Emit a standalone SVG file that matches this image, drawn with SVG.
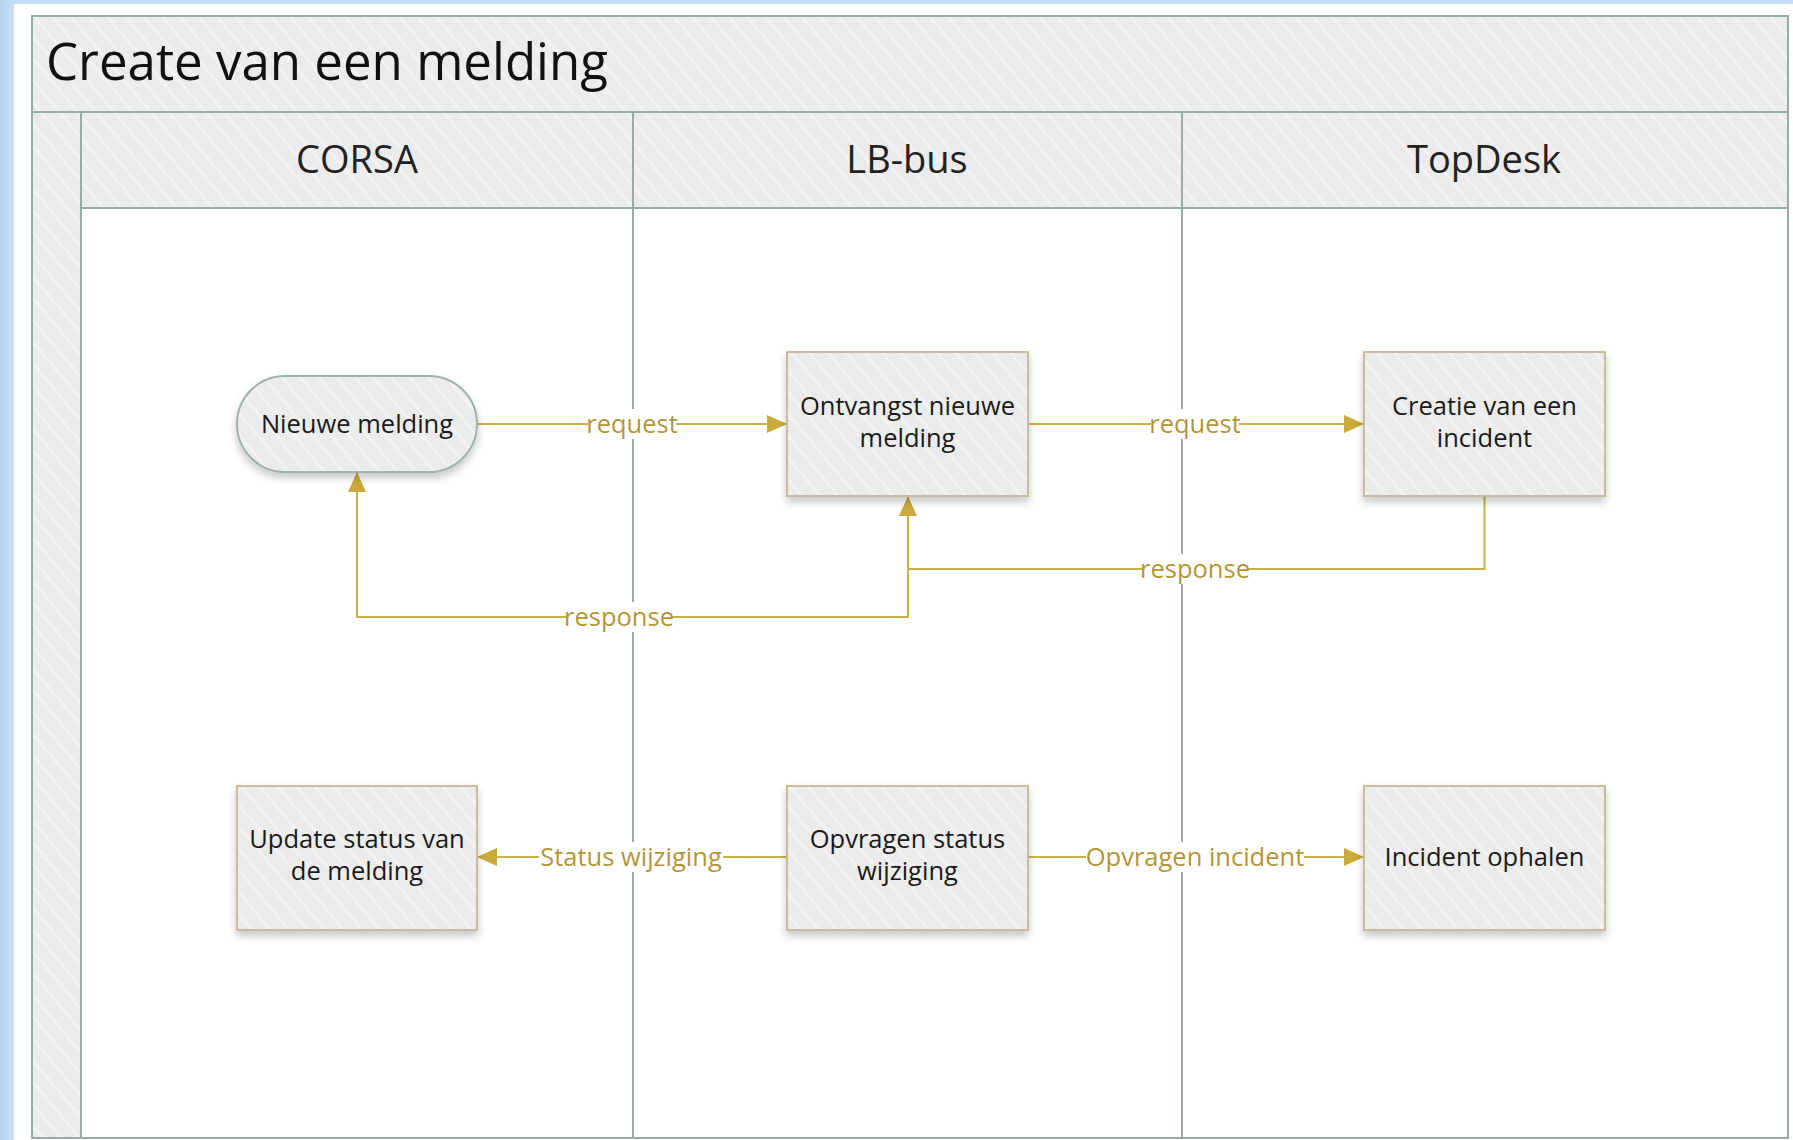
<svg xmlns="http://www.w3.org/2000/svg" width="1793" height="1140" viewBox="0 0 1793 1140">
<defs>
<linearGradient id="blueL" x1="0" y1="0" x2="1" y2="0"><stop offset="0" stop-color="#B5D3F0"/><stop offset="1" stop-color="#C9E0F5"/></linearGradient>
<pattern id="hatch" width="14" height="14" patternUnits="userSpaceOnUse" patternTransform="rotate(-40)">
<rect width="14" height="14" fill="#EBEBEB"/>
<rect width="3" height="14" fill="#F2F2F2"/>
</pattern>
<filter id="shadow" x="-10%" y="-10%" width="130%" height="140%">
<feDropShadow dx="0" dy="5" stdDeviation="4" flood-color="#000" flood-opacity="0.22"/>
</filter>
<marker id="arr" markerUnits="userSpaceOnUse" markerWidth="20" markerHeight="20" refX="20" refY="9" orient="auto">
<path d="M0,0 L20,9 L0,18 z" fill="#CBA93A"/>
</marker>
<style>
.lane{fill:url(#hatch);stroke:#95ADA6;stroke-width:2}
.lline{stroke:#95ADA6;stroke-width:2;fill:none}
.hdr{font-family:"Open Sans","Noto Sans",sans-serif;font-size:38px;fill:#222;text-anchor:middle}
.title{font-family:"Open Sans","Noto Sans",sans-serif;font-size:51px;fill:#111}
.box{fill:url(#hatch);stroke:#C9BD98;stroke-width:2;filter:url(#shadow)}
.pill{fill:url(#hatch);stroke:#9DB4AC;stroke-width:2;filter:url(#shadow)}
.ntxt{font-family:"Open Sans","Noto Sans",sans-serif;font-size:25.5px;fill:#1a1a1a;text-anchor:middle}
.conn{stroke:#CDAF48;stroke-width:2;fill:none}
.lbl{font-family:"Open Sans","Noto Sans",sans-serif;font-size:25.5px;fill:#B3953A;text-anchor:middle}
.lblbg{fill:#fff}
</style>
</defs>
<rect width="1793" height="1140" fill="#fff"/>
<rect x="0" y="0" width="1793" height="4" fill="#C3DCF3"/>
<rect x="0" y="0" width="14" height="1140" fill="url(#blueL)"/>

<g id="pool">
<rect x="32" y="16" width="1756" height="1122" fill="#fff" stroke="#95ADA6" stroke-width="2"/>
<rect x="32" y="16" width="1756" height="96" class="lane"/>
<rect x="32" y="112" width="49" height="1026" class="lane"/>
<rect x="81" y="112" width="1707" height="96" class="lane"/>
<line x1="633" y1="112" x2="633" y2="1138" class="lline"/>
<line x1="1182" y1="112" x2="1182" y2="1138" class="lline"/>
<text x="46" y="80" class="title">Create van een melding</text>
<text x="357" y="173" class="hdr">CORSA</text>
<text x="907" y="173" class="hdr">LB-bus</text>
<text x="1484" y="173" class="hdr">TopDesk</text>
</g>

<g id="connectors">
<path class="conn" d="M477,424 H787" marker-end="url(#arr)"/>
<path class="conn" d="M1028,424 H1364" marker-end="url(#arr)"/>
<path class="conn" d="M1484.5,496 V569 H908 V496" marker-end="url(#arr)"/>
<path class="conn" d="M908,569 V617 H357 V472" marker-end="url(#arr)"/>
<path class="conn" d="M787,857 H477" marker-end="url(#arr)"/>
<path class="conn" d="M1028,857 H1364" marker-end="url(#arr)"/>
<rect class="lblbg" x="588" y="409" width="88" height="30"/>
<text class="lbl" x="632" y="433">request</text>
<rect class="lblbg" x="1151" y="409" width="88" height="30"/>
<text class="lbl" x="1195" y="433">request</text>
<rect class="lblbg" x="1142" y="554" width="106" height="30"/>
<text class="lbl" x="1195" y="578">response</text>
<rect class="lblbg" x="566" y="602" width="106" height="30"/>
<text class="lbl" x="619" y="626">response</text>
<rect class="lblbg" x="539" y="842" width="184" height="30"/>
<text class="lbl" x="631" y="866">Status wijziging</text>
<rect class="lblbg" x="1086" y="842" width="218" height="30"/>
<text class="lbl" x="1195" y="866">Opvragen incident</text>
</g>

<g id="n1">
<rect class="pill" x="237" y="376" width="240" height="96" rx="48"/>
<text class="ntxt" x="357" y="433">Nieuwe melding</text>
</g>
<g id="n2">
<rect class="box" x="787" y="352" width="241" height="144"/>
<text class="ntxt" x="907.5" y="415">Ontvangst nieuwe</text>
<text class="ntxt" x="907.5" y="447">melding</text>
</g>
<g id="n3">
<rect class="box" x="1364" y="352" width="241" height="144"/>
<text class="ntxt" x="1484.5" y="415">Creatie van een</text>
<text class="ntxt" x="1484.5" y="447">incident</text>
</g>
<g id="n4">
<rect class="box" x="237" y="786" width="240" height="144"/>
<text class="ntxt" x="357" y="848">Update status van</text>
<text class="ntxt" x="357" y="880">de melding</text>
</g>
<g id="n5">
<rect class="box" x="787" y="786" width="241" height="144"/>
<text class="ntxt" x="907.5" y="848">Opvragen status</text>
<text class="ntxt" x="907.5" y="880">wijziging</text>
</g>
<g id="n6">
<rect class="box" x="1364" y="786" width="241" height="144"/>
<text class="ntxt" x="1484.5" y="866">Incident ophalen</text>
</g>
</svg>
